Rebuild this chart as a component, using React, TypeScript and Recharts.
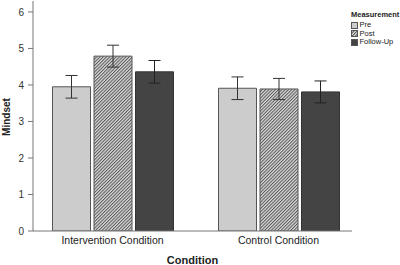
import React from 'react';
import { BarChart, Bar, XAxis, YAxis, ErrorBar, Legend } from 'recharts';

const categories = ['Intervention Condition', 'Control Condition'];
const preValues = [3.95, 3.91];
const postValues = [4.79, 3.89];
const followUpValues = [4.36, 3.81];
const preErrors = [0.31, 0.31];
const postErrors = [0.3, 0.29];
const followUpErrors = [0.31, 0.3];
const yTicks = [0, 1, 2, 3, 4, 5, 6];
const seriesNames = ['Pre', 'Post', 'Follow-Up'];

const data = categories.map((c, i) => ({
  condition: c,
  pre: preValues[i],
  post: postValues[i],
  followUp: followUpValues[i],
  preErr: preErrors[i],
  postErr: postErrors[i],
  followUpErr: followUpErrors[i],
}));

const FONT = '"Liberation Sans", Arial, sans-serif';

const HatchDefs = ({ id }: { id: string }) => (
  <defs>
    <pattern id={id} patternUnits="userSpaceOnUse" width="2.3" height="2.3" patternTransform="rotate(45)">
      <rect x="0" y="0" width="2.3" height="2.3" fill="#dadada" />
      <line x1="0.5" y1="0" x2="0.5" y2="2.3" stroke="#555" strokeWidth="1" />
    </pattern>
  </defs>
);

const swatchFills = ['#cccccc', 'url(#hatchLegend)', '#444444'];

const LegendContent = () => (
  <div style={{ fontFamily: FONT, color: '#222' }}>
    <div style={{ fontWeight: 'bold', fontSize: 7.5, lineHeight: '9px', height: 9 }}>Measurement</div>
    <svg width="0" height="0" style={{ position: 'absolute' }}>
      <HatchDefs id="hatchLegend" />
    </svg>
    <div style={{ marginTop: 2 }}>
      {seriesNames.map((n, i) => (
        <div key={n} style={{ display: 'flex', alignItems: 'center', height: 8.6 }}>
          <svg width="7" height="7" style={{ display: 'block' }}>
            <rect x="0.5" y="0.5" width="6" height="6" fill={swatchFills[i]} stroke="#555" strokeWidth="1" />
          </svg>
          <span style={{ fontSize: 7.5, lineHeight: '8.6px', marginLeft: 1.5 }}>{n}</span>
        </div>
      ))}
    </div>
  </div>
);

const YLabel = (props: any) => {
  const vb = props.viewBox || {};
  const cx = 9.5;
  const cy = (vb.y ?? 1) + (vb.height ?? 230) / 2 + 1;
  return (
    <text
      x={cx}
      y={cy}
      transform={`rotate(-90 ${cx} ${cy})`}
      textAnchor="middle"
      fontFamily={FONT}
      fontWeight="bold"
      fontSize={10}
      fill="#222"
    >
      Mindset
    </text>
  );
};

export default function App() {
  return (
    <div style={{ position: 'absolute', left: 0, top: 0 }}>
      <BarChart
        width={400}
        height={265}
        data={data}
        margin={{ top: 1, right: 48, left: 0, bottom: 0 }}
        barSize={38}
        barGap={3.5}
      >
        <HatchDefs id="hatchBar" />
        <XAxis
          dataKey="condition"
          height={34}
          padding={{ left: -3.5, right: -9.5 }}
          tickLine={false}
          tickSize={0}
          tickMargin={6}
          stroke="#777"
          tick={{ fill: '#222', fontSize: 10.5, fontFamily: FONT }}
          label={{
            value: 'Condition',
            position: 'insideBottom',
            offset: 1,
            fill: '#222',
            fontSize: 11,
            fontWeight: 'bold',
            fontFamily: FONT,
          }}
        />
        <YAxis
          width={33}
          domain={[0, 6.3]}
          ticks={yTicks}
          allowDataOverflow
          tickSize={5}
          tickMargin={4}
          stroke="#777"
          tick={{ fill: '#333', fontSize: 10, fontFamily: FONT }}
          label={<YLabel />}
        />
        <Legend
          layout="horizontal"
          verticalAlign="middle"
          align="center"
          content={<LegendContent />}
          wrapperStyle={{ position: 'absolute', top: 10, left: 351, width: 49 }}
        />
        <Bar dataKey="pre" name="Pre" fill="#cccccc" stroke="#555" strokeWidth={1} isAnimationActive={false}>
          <ErrorBar dataKey="preErr" width={6} stroke="#333" strokeWidth={1} direction="y" />
        </Bar>
        <Bar dataKey="post" name="Post" fill="url(#hatchBar)" stroke="#555" strokeWidth={1} isAnimationActive={false}>
          <ErrorBar dataKey="postErr" width={6} stroke="#333" strokeWidth={1} direction="y" />
        </Bar>
        <Bar dataKey="followUp" name="Follow-Up" fill="#444444" stroke="#333" strokeWidth={1} isAnimationActive={false}>
          <ErrorBar dataKey="followUpErr" width={6} stroke="#222" strokeWidth={1} direction="y" />
        </Bar>
      </BarChart>
    </div>
  );
}
